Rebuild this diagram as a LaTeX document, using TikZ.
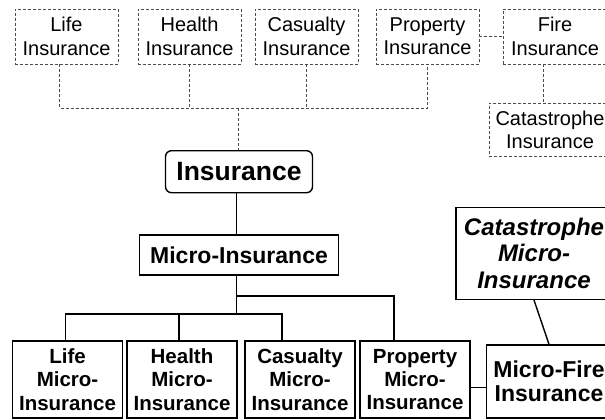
\documentclass[tikz,border=0pt]{standalone}
\usepackage{fontspec}
\setmainfont{Liberation Sans}

\begin{document}
\begin{tikzpicture}[x=1pt, y=1pt,
    plain/.style={draw=black!70, dash pattern=on 3pt off 2pt, line width=0.9pt, rectangle, align=center,
      minimum width=103pt, minimum height=55pt, inner sep=2pt, font=\fontsize{20}{23.3}\selectfont},
    micro/.style={draw, line width=1.4pt, rectangle, align=center,
      minimum width=110pt, minimum height=77pt, inner sep=2pt, font=\fontsize{20.5}{23.3}\selectfont\bfseries},
    tie/.style={draw=black!70, dash pattern=on 3pt off 2pt, line width=0.9pt},
    link/.style={draw, line width=1.4pt}]
  \useasboundingbox (0,0) rectangle (605,-420);
  \clip (0,0) rectangle (605,-420);

  % plain insurance
  \node (life) [plain] at (66.5,-36.5) {Life\\Insurance};
  \node (health) [plain, right of=life, node distance=123pt] {Health\\Insurance};
  \node (casualty) [plain, right of=health, node distance=117pt] {Casualty\\Insurance};
  \node (property) [plain, right of=casualty, node distance=121pt] {Property\\Insurance};
  \node (fire) [plain, minimum width=104pt, right of=property, node distance=127.5pt] {Fire\\Insurance};
  \node (catastrophe) [plain, minimum width=122pt, minimum height=53.4pt] at (550,-130) {Catastrophe\\Insurance};
  \node (insurance) [draw, line width=1.4pt, rounded corners=6pt, minimum width=147pt, minimum height=42pt,
    font=\fontsize{26.5}{30}\selectfont\bfseries] at (239,-171.7) {Insurance};
  \coordinate (topbus) at (238,-108);

  \draw[tie] ([xshift=-7pt]life.south) |- (property.south |- topbus) -- (property.south);
  \draw[tie] (health.south) -- (health.south |- topbus);
  \draw[tie] (casualty.south) -- (casualty.south |- topbus);
  \draw[tie] (topbus) -- (insurance.north -| topbus);
  \draw[tie] (property.east) -- (fire.west);
  \draw[tie] ([xshift=-12pt]fire.south) -- ([xshift=-12pt]fire.south |- catastrophe.north);

  % micro-insurance
  \node (microins) [draw, line width=1.4pt, minimum width=199pt, minimum height=40pt,
    font=\fontsize{23}{27}\selectfont\bfseries, below of=insurance, node distance=83.3pt] {Micro-Insurance};
  \node (lifemicro) [micro] at (67.5,-379.5) {Life\\Micro-\\Insurance};
  \node (healthmicro) [micro, right of=lifemicro, node distance=114.5pt] {Health\\Micro-\\Insurance};
  \node (casualtymicro) [micro, right of=healthmicro, node distance=118pt] {Casualty\\Micro-\\Insurance};
  \node (propertymicro) [micro, right of=casualtymicro, node distance=115pt] {Property\\Micro-\\Insurance};
  \node (catmicro) [micro, minimum width=156pt, minimum height=92pt,
    font=\fontsize{24}{26.7}\selectfont\bfseries\itshape] at (534,-253.4) {Catastrophe\\Micro-\\Insurance};
  \node (firemicro) [micro, minimum width=125pt, minimum height=73pt,
    font=\fontsize{23}{24.5}\selectfont\bfseries] at (549,-381.5) {Micro-Fire\\Insurance};
  \coordinate (lowbus) at (236.7,-314);
  \coordinate (highbus) at (236.7,-296);

  \draw[link] (insurance.south -| lowbus) -- (microins.north -| lowbus);
  \draw[link] (microins.south -| lowbus) -- (lowbus);
  \draw[link] ([xshift=-2pt]lifemicro.north) |- ([xshift=-18pt]casualtymicro.north |- lowbus) -- ([xshift=-18pt]casualtymicro.north);
  \draw[link] ([xshift=-3pt]healthmicro.north) -- ([xshift=-3pt]healthmicro.north |- lowbus);
  \draw[link] (highbus) -| ([xshift=-21pt]propertymicro.north);
  \draw[link] ([yshift=-8pt]propertymicro.east) -- ([yshift=-8pt]propertymicro.east -| firemicro.west);
  \draw[link] (catmicro.south) -- (firemicro.north);
\end{tikzpicture}
\end{document}
